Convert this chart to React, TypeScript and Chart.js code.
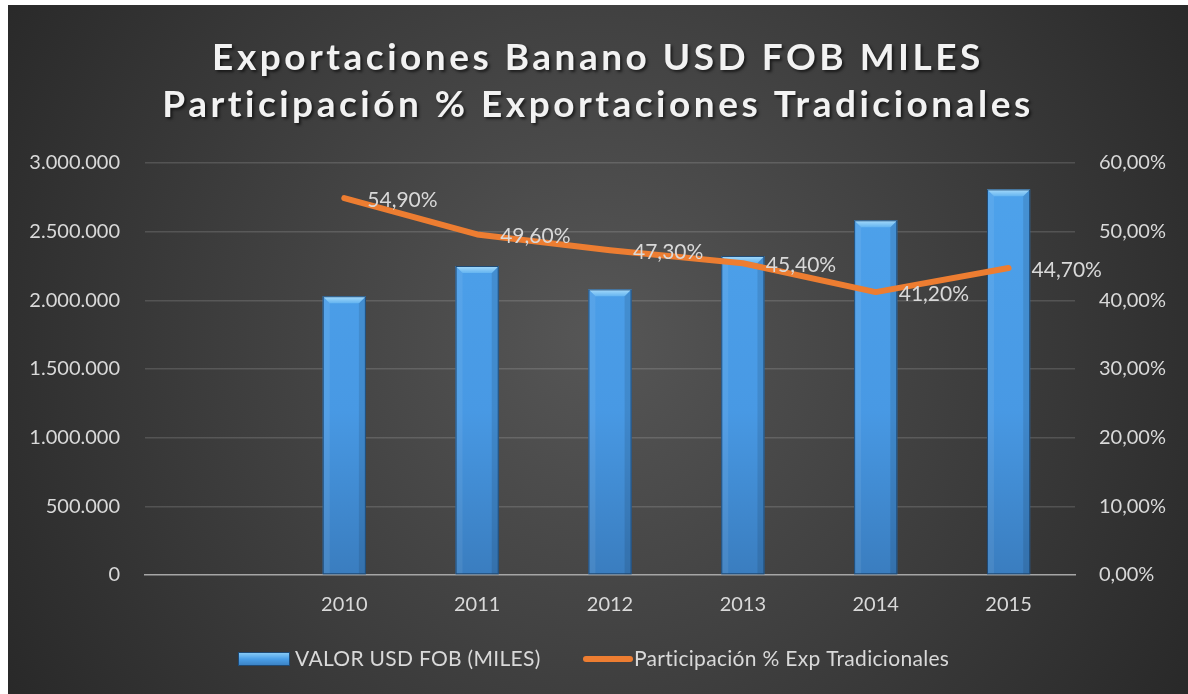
import React, { useEffect, useRef } from "react";
import { Chart, registerables } from "chart.js";

Chart.register(...registerables);

const categories = ["", "2010", "2011", "2012", "2013", "2014", "2015"];
const valorUsdFob = [null, 2030000, 2250000, 2080000, 2323000, 2583000, 2808000];
const participacion = [null, 0.549, 0.496, 0.473, 0.454, 0.412, 0.447];
const titleLines = ["Exportaciones Banano USD FOB MILES", "Participación % Exportaciones Tradicionales"];
const barLabel = "VALOR USD FOB (MILES)";
const lineLabel = "Participación % Exp Tradicionales";

const FONT = "Lato, 'Open Sans', sans-serif";
const TEXT = "#d9d9d9";
const ORANGE = "#ed7d31";

const fmtThousands = (v: number) => Math.round(v).toString().replace(/\B(?=(\d{3})+(?!\d))/g, ".");
const fmtPct = (v: number) => (v * 100).toFixed(2).replace(".", ",") + "%";

const backgroundPlugin = {
  id: "bg",
  beforeDraw(chart: any) {
    const { ctx, width, height } = chart;
    ctx.save();
    const g = ctx.createRadialGradient(width * 0.5, height * 0.48, 20, width * 0.5, height * 0.48, width * 0.62);
    g.addColorStop(0, "#555555");
    g.addColorStop(1, "#262626");
    ctx.fillStyle = g;
    ctx.fillRect(0, 0, width, height);
    ctx.restore();
  },
};

const titlePlugin = {
  id: "customTitle",
  afterDraw(chart: any) {
    const { ctx, width } = chart;
    ctx.save();
    ctx.font = `bold 37px ${FONT}`;
    (ctx as any).letterSpacing = "3.5px";
    ctx.textAlign = "center";
    ctx.textBaseline = "middle";
    ctx.shadowColor = "rgba(0,0,0,0.6)";
    ctx.shadowOffsetX = 2;
    ctx.shadowOffsetY = 2;
    ctx.shadowBlur = 3;
    ctx.fillStyle = "#f2f2f2";
    ctx.fillText(titleLines[0], width / 2 + 0, 53);
    ctx.fillText(titleLines[1], width / 2 + 0, 100);
    ctx.restore();
  },
};

const bevelPlugin = {
  id: "bevel",
  afterDatasetDraw(chart: any, args: any) {
    if (args.index !== 0) return;
    const { ctx } = chart;
    const meta = chart.getDatasetMeta(0);
    ctx.save();
    meta.data.forEach((bar: any, i: number) => {
      if (valorUsdFob[i] == null) return;
      const { x, y, base, width } = bar.getProps(["x", "y", "base", "width"], true);
      const l = x - width / 2;
      const r = x + width / 2;
      const b = 7;
      ctx.fillStyle = "rgba(255,255,255,0.07)";
      ctx.beginPath();
      ctx.moveTo(l, y);
      ctx.lineTo(l + b, y + b);
      ctx.lineTo(l + b, base);
      ctx.lineTo(l, base);
      ctx.closePath();
      ctx.fill();
      ctx.fillStyle = "rgba(0,0,0,0.10)";
      ctx.beginPath();
      ctx.moveTo(r, y);
      ctx.lineTo(r - b, y + b);
      ctx.lineTo(r - b, base);
      ctx.lineTo(r, base);
      ctx.closePath();
      ctx.fill();
      const tg = ctx.createLinearGradient(0, y, 0, y + b);
      tg.addColorStop(0, "#a8dcfb");
      tg.addColorStop(1, "#64b4f0");
      ctx.fillStyle = tg;
      ctx.beginPath();
      ctx.moveTo(l, y);
      ctx.lineTo(r, y);
      ctx.lineTo(r - b, y + b);
      ctx.lineTo(l + b, y + b);
      ctx.closePath();
      ctx.fill();
      ctx.strokeStyle = "#1f4a75";
      ctx.lineWidth = 1;
      ctx.strokeRect(l + 0.5, y + 0.5, width - 1, base - y - 1);
    });
    ctx.restore();
  },
};

const labelsPlugin = {
  id: "pctLabels",
  afterDatasetsDraw(chart: any) {
    const { ctx } = chart;
    const meta = chart.getDatasetMeta(1);
    ctx.save();
    ctx.font = `21px ${FONT}`;
    ctx.fillStyle = TEXT;
    ctx.textAlign = "left";
    ctx.textBaseline = "middle";
    meta.data.forEach((pt: any, i: number) => {
      const v = participacion[i];
      if (v == null) return;
      ctx.fillText(fmtPct(v), pt.x + 23, pt.y + 2);
    });
    ctx.restore();
  },
};

const legendPlugin = {
  id: "customLegend",
  afterDraw(chart: any) {
    const { ctx } = chart;
    ctx.save();
    const bx = 230, by = 647, bw = 52, bh = 14;
    const g = ctx.createLinearGradient(0, by, 0, by + bh);
    g.addColorStop(0, "#8fd0f8");
    g.addColorStop(0.5, "#4a9fe8");
    g.addColorStop(1, "#3a7fc0");
    ctx.fillStyle = g;
    ctx.fillRect(bx, by, bw, bh);
    ctx.strokeStyle = "#1f4a75";
    ctx.lineWidth = 1;
    ctx.strokeRect(bx + 0.5, by + 0.5, bw - 1, bh - 1);
    ctx.font = `21px ${FONT}`;
    (ctx as any).letterSpacing = "0.3px";
    ctx.fillStyle = TEXT;
    ctx.textBaseline = "middle";
    ctx.textAlign = "left";
    ctx.fillText(barLabel, 287, 654);
    ctx.strokeStyle = ORANGE;
    ctx.lineWidth = 6;
    ctx.lineCap = "round";
    ctx.beginPath();
    ctx.moveTo(578, 654);
    ctx.lineTo(622, 654);
    ctx.stroke();
    ctx.fillText(lineLabel, 626, 654);
    ctx.restore();
  },
};

export default function App() {
  const ref = useRef<HTMLCanvasElement | null>(null);
  useEffect(() => {
    if (!ref.current) return;
    Chart.defaults.font.family = FONT;
    const chart = new Chart(ref.current, {
      type: "bar",
      data: {
        labels: categories,
        datasets: [
          {
            type: "bar",
            label: barLabel,
            data: valorUsdFob as any,
            yAxisID: "y",
            order: 1,
            barPercentage: 0.325,
            categoryPercentage: 1,
            backgroundColor: (c: any) => {
              const area = c.chart.chartArea;
              if (!area) return "#4899e4";
              const g = c.chart.ctx.createLinearGradient(0, area.top, 0, area.bottom);
              g.addColorStop(0, "#4ea3ec");
              g.addColorStop(0.6, "#4899e4");
              g.addColorStop(1, "#3a7dbf");
              return g;
            },
            borderWidth: 0,
          },
          {
            type: "line",
            label: lineLabel,
            data: participacion as any,
            yAxisID: "y1",
            order: 0,
            borderColor: ORANGE,
            borderWidth: 6,
            borderCapStyle: "round",
            borderJoinStyle: "round",
            pointRadius: 0,
            pointHoverRadius: 0,
            tension: 0,
            spanGaps: false,
          },
        ],
      },
      options: {
        animation: false,
        responsive: false,
        maintainAspectRatio: false,
        layout: { padding: { top: 158, left: 0, right: 0, bottom: 0 } },
        plugins: {
          legend: { display: false },
          title: { display: false },
          tooltip: { enabled: false },
        },
        scales: {
          x: {
            offset: true,
            grid: { display: false, drawTicks: false },
            border: { display: true, color: "#a6a6a6", width: 1.5 },
            ticks: { color: TEXT, font: { size: 20 }, padding: 18, maxRotation: 0 },
            afterFit: (s: any) => { s.height = 119; },
          },
          y: {
            position: "left",
            min: 0,
            max: 3000000,
            ticks: {
              stepSize: 500000,
              color: TEXT,
              font: { size: 20 },
              padding: 25,
              callback: (v: any) => fmtThousands(Number(v)),
            },
            grid: {
              drawTicks: false,
              color: (c: any) => (c.index === 0 ? "rgba(0,0,0,0)" : "rgba(255,255,255,0.14)"),
              lineWidth: 1.5,
            },
            border: { display: false },
            afterFit: (s: any) => { s.width = 137; },
          },
          y1: {
            position: "right",
            min: 0,
            max: 0.6,
            ticks: {
              stepSize: 0.1,
              color: TEXT,
              font: { size: 20 },
              padding: 24,
              callback: (v: any) => fmtPct(Number(v)),
            },
            grid: { display: false, drawTicks: false },
            border: { display: false },
            afterFit: (s: any) => { s.width = 113; },
          },
        },
      },
      plugins: [backgroundPlugin, bevelPlugin, labelsPlugin, titlePlugin, legendPlugin],
    } as any);
    return () => chart.destroy();
  }, []);
  return (
    <div style={{ position: "absolute", left: 8, top: 5, width: 1180, height: 689 }}>
      <canvas ref={ref} width={1180} height={689} style={{ width: 1180, height: 689, display: "block" }} />
    </div>
  );
}
